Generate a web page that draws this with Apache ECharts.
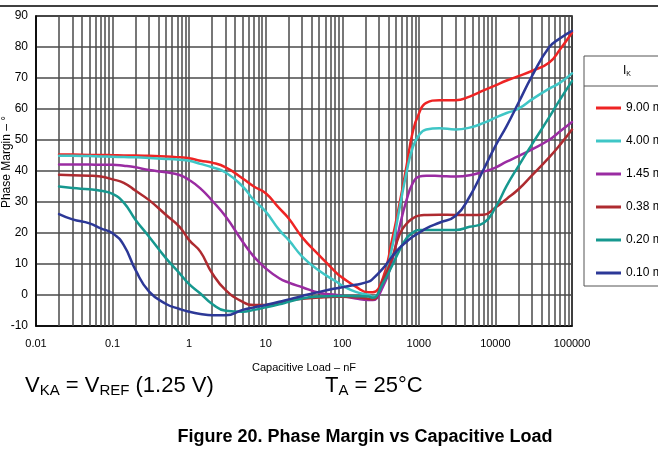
<!DOCTYPE html>
<html>
<head>
<meta charset="utf-8">
<script src="https://cdn.jsdelivr.net/npm/echarts@6/dist/echarts.min.js"></script>
<style>
html,body{margin:0;padding:0;background:#fff;}
#c{width:658px;height:455px;}
</style>
</head>
<body>
<div id="c"></div>
<script>
// Capacitive load (nF)
const capLoad = [0.02, 0.03, 0.05, 0.07, 0.1, 0.14, 0.2, 0.3, 0.5, 0.75, 1, 1.4, 2, 3, 5, 7, 10, 15, 20, 30, 50, 85, 100, 150, 220, 250, 340, 440, 560, 690, 830, 1000, 1250, 1850, 3000, 4600, 7000, 10000, 14000, 20000, 30000, 50000, 70000, 100000];
// Phase margin (deg) per cathode current
const pm900 = [45.3, 45.3, 45.2, 45.2, 45.1, 45.0, 45.0, 44.9, 44.7, 44.4, 44.1, 43.3, 42.7, 41.2, 37.6, 35.0, 32.8, 28.0, 24.7, 18.6, 12.8, 7.0, 5.6, 2.7, 0.9, 0.9, 5.5, 17.0, 29.5, 41.5, 52.5, 58.5, 62.0, 62.8, 62.8, 64.0, 66.0, 67.6, 69.2, 70.6, 72.3, 74.9, 79.3, 84.6];
const pm400 = [44.9, 44.9, 44.8, 44.7, 44.6, 44.5, 44.4, 44.2, 43.9, 43.6, 43.3, 42.3, 41.2, 39.5, 35.0, 30.6, 26.9, 21.0, 17.7, 12.4, 7.8, 4.2, 3.0, 1.0, 0.0, -0.6, 4.0, 14.5, 28.0, 39.5, 47.5, 51.5, 53.4, 53.8, 53.4, 54.0, 55.5, 57.2, 58.7, 60.1, 63.1, 66.5, 68.5, 71.5];
const pm145 = [42.1, 42.1, 42.1, 42.0, 42.0, 41.7, 41.2, 40.3, 39.6, 38.7, 37.1, 34.4, 30.4, 25.3, 17.2, 12.4, 8.6, 5.4, 4.0, 2.5, 0.7, 0.0, -0.3, -1.1, -1.6, -1.6, 2.7, 10.2, 22.0, 30.6, 36.0, 38.2, 38.5, 38.4, 38.2, 38.6, 39.8, 41.1, 43.0, 44.8, 47.0, 50.0, 52.8, 55.8];
const pm038 = [38.8, 38.6, 38.5, 38.2, 37.3, 36.2, 33.6, 30.6, 25.8, 22.0, 17.7, 14.0, 7.0, 1.6, -2.2, -3.2, -3.2, -2.5, -1.8, -1.2, -0.8, -0.6, -0.6, -0.7, -1.2, -1.4, 4.8, 11.3, 19.5, 23.0, 24.7, 25.6, 25.8, 25.9, 25.8, 25.8, 25.9, 28.2, 31.0, 34.1, 38.6, 44.3, 48.5, 53.4];
const pm020 = [35.0, 34.5, 34.1, 33.6, 32.6, 29.8, 24.2, 18.8, 11.8, 7.0, 3.5, 0.5, -2.9, -5.1, -5.4, -4.8, -4.0, -3.0, -2.2, -1.1, -0.5, -0.3, -0.3, -0.4, -0.5, -0.9, 3.8, 9.1, 14.5, 18.3, 20.1, 21.0, 21.0, 21.0, 21.0, 22.0, 23.2, 28.2, 35.2, 41.6, 48.6, 57.2, 63.1, 69.0];
const pm010 = [26.1, 24.4, 23.1, 21.5, 19.9, 16.1, 8.0, 1.1, -2.9, -4.5, -5.4, -6.1, -6.5, -6.5, -4.8, -4.0, -3.2, -2.2, -1.4, -0.3, 1.0, 2.2, 2.5, 3.3, 4.3, 5.2, 8.6, 12.2, 15.2, 17.2, 18.8, 20.0, 21.5, 23.3, 25.5, 31.7, 40.5, 48.1, 54.5, 62.0, 70.6, 79.8, 82.8, 85.2];

const seriesNames = ['9.00 mA', '4.00 mA', '1.45 mA', '0.38 mA', '0.20 mA', '0.10 mA'];
const seriesColors = ['#EE2424', '#3FC6C6', '#9A2CA2', '#AE2B30', '#16988F', '#2C3897'];
const seriesValues = [pm900, pm400, pm145, pm038, pm020, pm010];

const xTickValues = [0.01, 0.1, 1, 10, 100, 1000, 10000, 100000];
const xTickLabels = ['0.01', '0.1', '1', '10', '100', '1000', '10000', '100000'];
const yMin = -10, yMax = 90, yStep = 10;
const minorMultipliers = [2, 3, 4, 5, 6, 7, 8, 9];

const FONT = '"Liberation Sans", Arial, Helvetica, sans-serif';

const gridLines = [];
xTickValues.forEach(function (d, i) {
  if (i > 0 && i < xTickValues.length - 1) gridLines.push({ xAxis: d });
  if (i < xTickValues.length - 1) {
    minorMultipliers.forEach(function (m) { gridLines.push({ xAxis: d * m }); });
  }
});

const chart = echarts.init(document.getElementById('c'), null, { renderer: 'canvas' });

const series = seriesNames.map(function (name, i) {
  return {
    name: name,
    type: 'line',
    data: capLoad.map(function (c, j) { return [c, seriesValues[i][j]]; }),
    showSymbol: false,
    symbol: 'none',
    smooth: 0.5,
    lineStyle: { color: seriesColors[i], width: 2.5, cap: 'round', join: 'round' },
    itemStyle: { color: seriesColors[i] },
    zlevel: 1,
    z: 20,
    silent: true
  };
});

series.push({
  name: 'grid',
  type: 'line',
  data: [],
  silent: true,
  z: 1,
  markLine: {
    silent: true,
    z: 1,
    symbol: ['none', 'none'],
    label: { show: false },
    animation: false,
    lineStyle: { color: '#4a4a4a', width: 1.5, type: 'solid' },
    emphasis: { disabled: true },
    data: gridLines
  }
});

chart.setOption({
  animation: false,
  backgroundColor: '#fff',
  grid: {
    left: 36, top: 16, right: 86, bottom: 129,
    show: true, borderColor: '#000', borderWidth: 1.5, backgroundColor: '#fff'
  },
  xAxis: {
    type: 'log',
    logBase: 10,
    min: 0.01,
    max: 100000,
    interval: 1,
    name: 'Capacitive Load – nF',
    nameLocation: 'middle',
    nameGap: 36,
    nameTextStyle: { fontFamily: FONT, fontSize: 11, color: '#000' },
    axisLine: { show: true, onZero: false, lineStyle: { color: '#000', width: 1.5 } },
    axisTick: { show: false },
    minorTick: { show: false },
    splitLine: { show: false },
    axisLabel: {
      fontFamily: FONT, fontSize: 11, color: '#000', margin: 12,
      showMinLabel: true, showMaxLabel: true,
      formatter: function (v) {
        const idx = Math.round(Math.log10(v)) + 2;
        return xTickLabels[idx] !== undefined ? xTickLabels[idx] : '';
      }
    }
  },
  yAxis: {
    type: 'value',
    min: yMin,
    max: yMax,
    interval: yStep,
    axisLine: { show: true, onZero: false, lineStyle: { color: '#000', width: 1.5 } },
    axisTick: { show: false },
    splitLine: { show: true, lineStyle: { color: '#4a4a4a', width: 1.5 } },
    axisLabel: { fontFamily: FONT, fontSize: 12, color: '#000', margin: 8 }
  },
  legend: {
    orient: 'vertical',
    left: 591,
    top: 96,
    itemWidth: 25,
    itemHeight: 3,
    itemGap: 19,
    icon: 'rect',
    selectedMode: false,
    textStyle: { fontFamily: FONT, fontSize: 12, color: '#000', lineHeight: 14 },
    data: seriesNames
  },
  graphic: [
    { type: 'line', shape: { x1: 0, y1: 6, x2: 658, y2: 6 }, style: { stroke: '#000', lineWidth: 1.5 }, silent: true },
    { type: 'rect', shape: { x: 584, y: 56, width: 120, height: 230 }, style: { stroke: '#555', lineWidth: 1, fill: '#fff' }, z: -1, silent: true },
    { type: 'line', shape: { x1: 584, y1: 86, x2: 658, y2: 86 }, style: { stroke: '#555', lineWidth: 1 }, silent: true },
    {
      type: 'text', x: 627, y: 71, silent: true,
      style: {
        text: '{a|I}{b|K}', textAlign: 'center', textVerticalAlign: 'middle',
        rich: {
          a: { fontFamily: FONT, fontSize: 12, fill: '#000' },
          b: { fontFamily: FONT, fontSize: 7, fill: '#000', padding: [6, 0, 0, 0] }
        }
      }
    },
    {
      type: 'text', x: 7, y: 162, rotation: Math.PI / 2, silent: true,
      style: { text: 'Phase Margin – °', font: '12px ' + FONT, fill: '#000', textAlign: 'center', textVerticalAlign: 'middle' }
    },
    {
      type: 'text', x: 25, y: 386, silent: true,
      style: {
        text: '{m|V}{s|KA}{m| = V}{s|REF}{m| (1.25 V)}', textVerticalAlign: 'middle',
        rich: {
          m: { fontFamily: FONT, fontSize: 22, fill: '#000' },
          s: { fontFamily: FONT, fontSize: 15, fill: '#000', padding: [10, 0, 0, 0] }
        }
      }
    },
    {
      type: 'text', x: 325, y: 386, silent: true,
      style: {
        text: '{m|T}{s|A}{m| = 25°C}', textVerticalAlign: 'middle',
        rich: {
          m: { fontFamily: FONT, fontSize: 22, fill: '#000' },
          s: { fontFamily: FONT, fontSize: 15, fill: '#000', padding: [10, 0, 0, 0] }
        }
      }
    },
    {
      type: 'text', x: 365, y: 437, silent: true,
      style: { text: 'Figure 20. Phase Margin vs Capacitive Load', font: 'bold 18px ' + FONT, fill: '#000', textAlign: 'center', textVerticalAlign: 'middle' }
    }
  ],
  series: series
});
</script>
</body>
</html>
